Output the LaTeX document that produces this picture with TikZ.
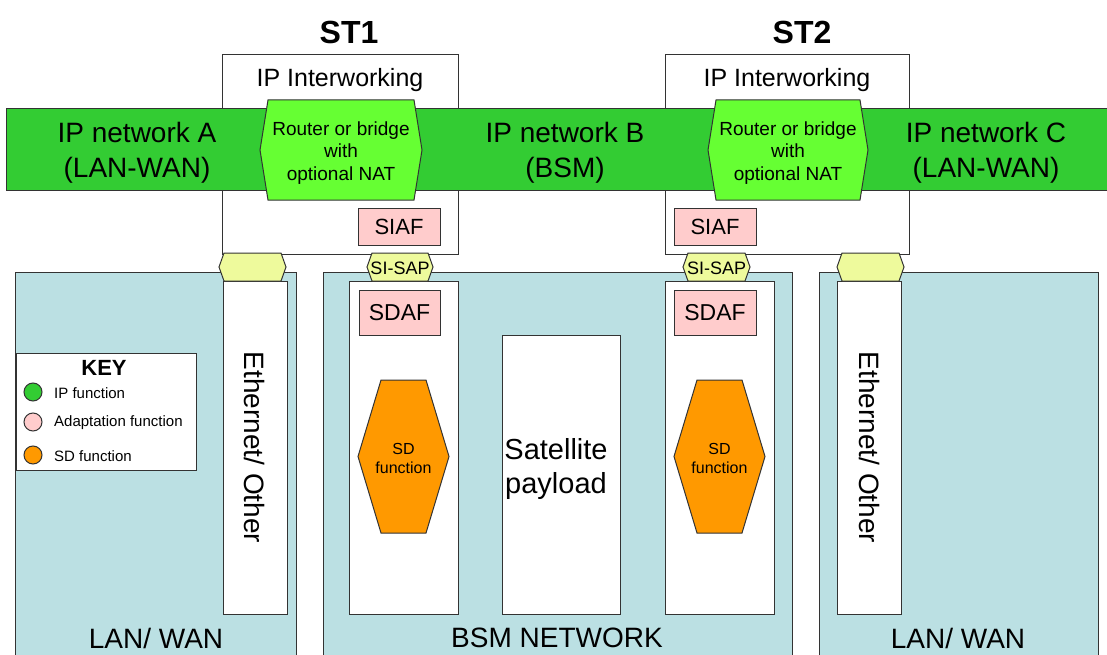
\documentclass[tikz,border=0pt]{standalone}
\usepackage{fontspec}
\setmainfont{Liberation Sans}
\usetikzlibrary{calc}

\definecolor{ipgreen}{HTML}{33CC33}
\definecolor{rtgreen}{HTML}{66FF33}
\definecolor{adpink}{HTML}{FFCCCC}
\definecolor{sdorange}{HTML}{FF9900}
\definecolor{sapyellow}{HTML}{EEFA9C}
\definecolor{netblue}{HTML}{BBE0E3}

% hexagon: style, cx, cy, half width, half height, inset
\newcommand{\hexa}[6]{%
  \draw[#1] ({#2-#4},#3) -- ({#2-#4+#6},{#3-#5}) -- ({#2+#4-#6},{#3-#5})
    -- ({#2+#4},#3) -- ({#2+#4-#6},{#3+#5}) -- ({#2-#4+#6},{#3+#5}) -- cycle;}

\begin{document}
\begin{tikzpicture}[x=1pt,y=-1pt,
  fr/.style={draw=black!80,line width=1pt},
  rect/.style={fr,inner sep=0pt,align=center},
  wbox/.style={rect,fill=white},
  lbl/.style={align=center,inner sep=0pt},
  big/.style={font=\fontsize{28}{35}\selectfont},
  tiny/.style={font=\fontsize{15}{18}\selectfont}]
  \clip (0,0) rectangle (1107,655);
  % reseaux du bas
  \node[rect,fill=netblue,minimum width=281,minimum height=398] (lanA) at (155.5,471) {};
  \node[rect,fill=netblue,minimum width=469,minimum height=398] (bsm) at (557.5,471) {};
  \node[rect,fill=netblue,minimum width=279,minimum height=398] (lanC) at (958.5,471) {};
  \node[lbl,big] (lanAlbl) at (156,638) {LAN/ WAN};
  \node[lbl,big] (bsmlbl) at (557,638) {BSM NETWORK};
  \node[lbl,big] (lanClbl) at (958,638) {LAN/ WAN};
  % colonnes
  \node[wbox,big,rotate=-90,minimum width=333,minimum height=64] (eth1) at (255,447.5) {Ethernet/ Other};
  \node[wbox,big,rotate=-90,minimum width=333,minimum height=64] (eth2) at (869,447.5) {Ethernet/ Other};
  \node[wbox,minimum width=109,minimum height=333] (sd1) at (403.5,447.5) {};
  \node[wbox,minimum width=109,minimum height=333] (sd2) at (719.5,447.5) {};
  \node[wbox,minimum width=118,minimum height=279] (sat) at (561,474.5) {};
  \node[lbl,font=\fontsize{29}{34}\selectfont] (satlbl) at (556,469) {Satellite\\payload};
  % terminaux ST1 / ST2
  \node[wbox,minimum width=236,minimum height=199] (st1) at (340,154.5) {};
  \node[wbox,minimum width=244,minimum height=199] (st2) at (787,154.5) {};
  \node[lbl,font=\fontsize{32}{38}\selectfont\bfseries] (st1lbl) at (349,32) {ST1};
  \node[lbl,font=\fontsize{32}{38}\selectfont\bfseries] (st2lbl) at (802,32) {ST2};
  \node[lbl,font=\fontsize{25}{30}\selectfont] (iw1) at (340,80) {IP Interworking};
  \node[lbl,font=\fontsize{25}{30}\selectfont] (iw2) at (787,80) {IP Interworking};
  % bande IP
  \node[rect,fill=ipgreen,minimum width=1109,minimum height=81] (band) at (560.5,149.5) {};
  \node[lbl,big] (netA) at (137,153) {IP network A\\(LAN-WAN)};
  \node[lbl,big] (netB) at (565,153) {IP network B\\(BSM)};
  \node[lbl,big] (netC) at (986,153) {IP network C\\(LAN-WAN)};
  % routeurs
  \hexa{fr,fill=rtgreen}{341}{150}{81}{50}{8}
  \hexa{fr,fill=rtgreen}{788}{150}{80}{50}{8}
  \node[lbl,font=\fontsize{19}{22.5}\selectfont] (rt1) at (341,153) {Router or bridge\\with\\optional NAT};
  \node[lbl,font=\fontsize{19}{22.5}\selectfont] (rt2) at (788,153) {Router or bridge\\with\\optional NAT};
  % fonctions d'adaptation
  \node[rect,fill=adpink,font=\fontsize{22}{26}\selectfont,minimum width=82,minimum height=37] (siaf1) at (399,226.5) {SIAF};
  \node[rect,fill=adpink,font=\fontsize{22}{26}\selectfont,minimum width=82,minimum height=37] (siaf2) at (715,226.5) {SIAF};
  \node[rect,fill=adpink,font=\fontsize{23}{27}\selectfont,minimum width=81,minimum height=45] (sdaf1) at (399.5,312.5) {SDAF};
  \node[rect,fill=adpink,font=\fontsize{23}{27}\selectfont,minimum width=82,minimum height=45] (sdaf2) at (715,312.5) {SDAF};
  % points d'acces
  \hexa{fr,fill=sapyellow}{252.5}{267}{33.5}{14}{5}
  \hexa{fr,fill=sapyellow}{400}{267}{33}{14}{5}
  \hexa{fr,fill=sapyellow}{716.5}{267}{33.5}{14}{5}
  \hexa{fr,fill=sapyellow}{870.5}{267}{33.5}{14}{5}
  \node[lbl,font=\fontsize{18}{20}\selectfont] (sap1) at (400,268) {SI-SAP};
  \node[lbl,font=\fontsize{18}{20}\selectfont] (sap2) at (716.5,268) {SI-SAP};
  % fonctions SD
  \hexa{fr,fill=sdorange}{403.5}{456.5}{45.5}{76.5}{23}
  \hexa{fr,fill=sdorange}{719.5}{456.5}{45.5}{76.5}{23}
  \node[lbl,font=\fontsize{16}{19}\selectfont] (sdf1) at (403.5,458) {SD\\function};
  \node[lbl,font=\fontsize{16}{19}\selectfont] (sdf2) at (719.5,458) {SD\\function};
  % legende
  \node[wbox,minimum width=180,minimum height=117] (key) at (106,411.5) {};
  \node[lbl,font=\fontsize{22}{26}\selectfont\bfseries] (keylbl) at (104,368) {KEY};
  \foreach \c/\t/\yy [count=\i] in {ipgreen/IP function/392,adpink/Adaptation function/422,sdorange/SD function/455}{
    \draw[fr,fill=\c] (33,\yy) circle (9);
    \node[lbl,tiny,anchor=west] (key\i) at (54,\yy+1) {\t};
  }
\end{tikzpicture}
\end{document}
